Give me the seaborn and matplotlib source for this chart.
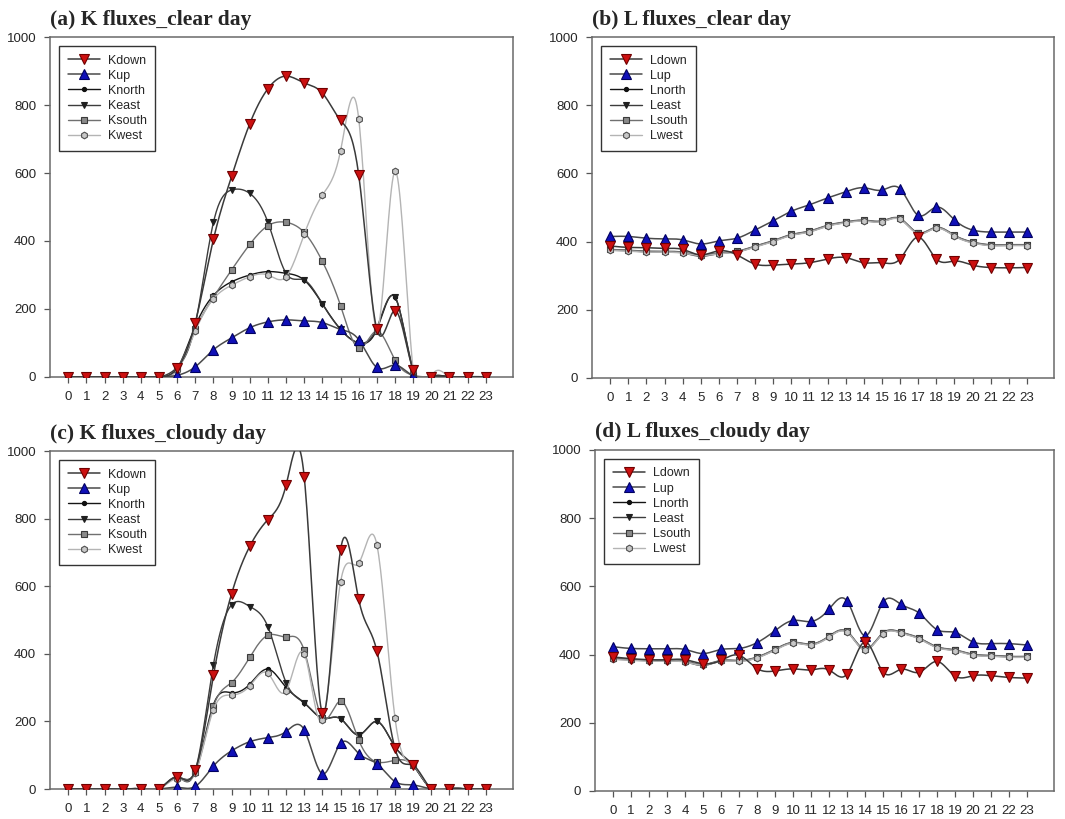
import numpy as np
import matplotlib
matplotlib.use("Agg")
import matplotlib.pyplot as plt
import seaborn as sns

# ---------------- data (W m-2, hourly) ----------------
hours = list(range(24))
hour_labels = [str(h) for h in hours]
y_ticks = [0, 200, 400, 600, 800, 1000]

# (a) shortwave, clear day
a_kdown = [0, 0, 0, 0, 0, 0, 25, 160, 405, 590, 745, 848, 885, 865, 835, 755, 595, 140, 195, 20, 0, 0, 0, 0]
a_kup = [0, 0, 0, 0, 0, 0, 5, 30, 80, 115, 145, 162, 168, 165, 160, 140, 110, 28, 35, 3, 0, 0, 0, 0]
a_knorth = [0, 0, 0, 0, 0, 0, 25, 150, 240, 280, 300, 310, 305, 285, 215, 140, 100, 140, 235, 20, 0, 0, 0, 0]
a_keast = [0, 0, 0, 0, 0, 0, 28, 155, 455, 550, 540, 455, 305, 285, 215, 140, 100, 145, 235, 25, 0, 0, 0, 0]
a_ksouth = [0, 0, 0, 0, 0, 0, 25, 140, 235, 315, 390, 445, 455, 425, 340, 210, 85, 135, 50, 5, 0, 0, 0, 0]
a_kwest = [0, 0, 0, 0, 0, 0, 20, 135, 230, 270, 295, 300, 295, 420, 535, 665, 760, 140, 605, 20, 0, 0, 0, 0]

# (b) longwave, clear day
b_ldown = [387, 383, 382, 380, 377, 361, 373, 361, 334, 331, 334, 338, 349, 353, 338, 338, 349, 413, 349, 343, 331, 324, 323, 324]
b_lup = [415, 415, 410, 408, 405, 393, 402, 410, 434, 461, 489, 508, 528, 546, 558, 551, 555, 477, 501, 464, 434, 428, 428, 428]
b_lnorth = [376, 374, 371, 371, 368, 360, 366, 371, 386, 402, 420, 430, 447, 457, 462, 460, 467, 425, 441, 418, 398, 390, 390, 390]
b_least = [375, 373, 370, 370, 367, 357, 365, 370, 385, 401, 419, 429, 446, 456, 461, 459, 466, 424, 440, 417, 397, 389, 389, 389]
b_lsouth = [377, 375, 372, 372, 369, 361, 367, 372, 387, 403, 421, 431, 448, 458, 463, 461, 468, 426, 442, 419, 399, 391, 391, 391]
b_lwest = [374, 372, 369, 369, 366, 359, 364, 369, 384, 400, 418, 428, 445, 455, 460, 458, 465, 423, 439, 416, 396, 388, 388, 388]

# (c) shortwave, cloudy day
c_kdown = [0, 0, 0, 0, 0, 0, 35, 55, 336, 578, 718, 797, 899, 923, 224, 707, 561, 409, 120, 70, 0, 0, 0, 0]
c_kup = [0, 0, 0, 0, 0, 0, 5, 8, 68, 113, 140, 152, 170, 175, 45, 135, 105, 75, 22, 12, 0, 0, 0, 0]
c_knorth = [0, 0, 0, 0, 0, 0, 35, 52, 250, 285, 310, 355, 300, 255, 210, 208, 160, 200, 125, 70, 0, 0, 0, 0]
c_keast = [0, 0, 0, 0, 0, 0, 35, 55, 368, 545, 540, 480, 315, 255, 210, 208, 160, 200, 125, 70, 0, 0, 0, 0]
c_ksouth = [0, 0, 0, 0, 0, 0, 35, 50, 245, 315, 390, 455, 450, 410, 210, 260, 145, 80, 85, 70, 0, 0, 0, 0]
c_kwest = [0, 0, 0, 0, 0, 0, 30, 48, 235, 278, 305, 342, 290, 400, 205, 612, 668, 723, 210, 70, 0, 0, 0, 0]

# (d) longwave, cloudy day
d_ldown = [393, 388, 385, 385, 385, 373, 383, 398, 359, 352, 358, 355, 355, 343, 437, 349, 357, 348, 380, 337, 338, 338, 333, 331]
d_lup = [423, 418, 417, 417, 415, 403, 415, 418, 435, 470, 500, 497, 533, 557, 455, 553, 547, 522, 473, 465, 437, 432, 432, 428]
d_lnorth = [388, 385, 383, 383, 380, 370, 382, 382, 392, 415, 435, 430, 453, 467, 415, 463, 465, 448, 422, 413, 400, 397, 394, 394]
d_least = [387, 384, 382, 382, 379, 368, 381, 381, 391, 414, 434, 429, 452, 466, 414, 462, 464, 447, 421, 412, 399, 396, 393, 393]
d_lsouth = [389, 386, 384, 384, 381, 371, 383, 383, 393, 416, 436, 431, 454, 468, 416, 464, 466, 449, 423, 414, 401, 398, 395, 395]
d_lwest = [386, 383, 381, 381, 378, 369, 380, 380, 390, 413, 433, 428, 451, 465, 413, 461, 463, 446, 420, 411, 398, 395, 392, 392]

panels = [
    ("(a) K fluxes_clear day", "K", [a_kdown, a_kup, a_knorth, a_keast, a_ksouth, a_kwest]),
    ("(b) L fluxes_clear day", "L", [b_ldown, b_lup, b_lnorth, b_least, b_lsouth, b_lwest]),
    ("(c) K fluxes_cloudy day", "K", [c_kdown, c_kup, c_knorth, c_keast, c_ksouth, c_kwest]),
    ("(d) L fluxes_cloudy day", "L", [d_ldown, d_lup, d_lnorth, d_least, d_lsouth, d_lwest]),
]
suffixes = ["down", "up", "north", "east", "south", "west"]

# line / marker styling per component
styles = [
    dict(color="#3a3a3a", marker="v", ms=7.0, mfc="#cc1010", mec="#700000", lw=1.1, z=6),
    dict(color="#4a4a4a", marker="^", ms=7.0, mfc="#1010b8", mec="#000060", lw=1.1, z=5),
    dict(color="#151515", marker="o", ms=3.0, mfc="#101010", mec="#101010", lw=1.0, z=1),
    dict(color="#3c3c3c", marker="v", ms=3.8, mfc="#202020", mec="#202020", lw=1.0, z=2),
    dict(color="#707070", marker="s", ms=3.8, mfc="#8a8a8a", mec="#3a3a3a", lw=1.0, z=3),
    dict(color="#b4b4b4", marker="h", ms=4.8, mfc="#c8c8c8", mec="#505050", lw=1.0, z=4),
]

SUB = 20  # curve samples per hour


def smooth_curve(values):
    """Natural cubic spline through hourly values, sampled SUB times per hour."""
    y = np.asarray(values, dtype=float)
    n = len(y)
    A = np.zeros((n, n))
    rhs = np.zeros(n)
    A[0, 0] = A[-1, -1] = 1.0
    for i in range(1, n - 1):
        A[i, i - 1], A[i, i], A[i, i + 1] = 1.0, 4.0, 1.0
        rhs[i] = 6.0 * (y[i + 1] - 2.0 * y[i] + y[i - 1])
    M = np.linalg.solve(A, rhs)
    t = np.linspace(0, n - 1, (n - 1) * SUB + 1)
    i = np.minimum(np.floor(t).astype(int), n - 2)
    s = t - i
    a = 1.0 - s
    yy = a * y[i] + s * y[i + 1] + (a ** 3 - a) * M[i] / 6.0 + (s ** 3 - s) * M[i + 1] / 6.0
    return hours[0] + t, yy


sns.set_style("white")
plt.rcParams["font.family"] = ["Liberation Sans", "DejaVu Sans"]

fig = plt.figure(figsize=(10.65, 8.19), dpi=100)
rects = [
    (0.047, 0.5397, 0.4347, 0.4151),
    (0.5559, 0.5385, 0.4338, 0.4163),
    (0.047, 0.0366, 0.4347, 0.4127),
    (0.5587, 0.0342, 0.4310, 0.4164),
]

for rect, (title, prefix, series) in zip(rects, panels):
    ax = fig.add_axes(rect)
    for suf, vals, st in zip(suffixes, series, styles):
        tx, ty = smooth_curve(vals)
        sns.lineplot(x=tx, y=ty, ax=ax, estimator=None, sort=False,
                     color=st["color"], linewidth=st["lw"], marker=st["marker"],
                     markevery=SUB, markersize=st["ms"], markerfacecolor=st["mfc"],
                     markeredgecolor=st["mec"], markeredgewidth=0.8,
                     zorder=st["z"], label=prefix + suf)
    ax.set_xlim(-1, 24.5)
    ax.set_ylim(0, 1000)
    ax.set_xticks(hours)
    ax.set_xticklabels(hour_labels)
    ax.set_yticks(y_ticks)
    ax.set_xlabel("")
    ax.set_ylabel("")
    ax.tick_params(axis="both", which="both", direction="out", length=4, width=0.9,
                   color="#555555", labelsize=9.5, pad=6, bottom=True, left=True)
    for sp in ax.spines.values():
        sp.set_visible(True)
        sp.set_color("#6a6a6a")
        sp.set_linewidth(1.1)
    ax.set_title(title, loc="left", pad=9, fontsize=15.5, fontweight="bold",
                 family=["Liberation Serif", "DejaVu Serif"])
    handles, labels = ax.get_legend_handles_labels()
    leg = ax.legend(handles, labels, loc="upper left", fontsize=9, frameon=True,
                    fancybox=False, framealpha=1, edgecolor="#333333",
                    handlelength=2.6, handletextpad=0.6, labelspacing=0.25,
                    borderpad=0.7, borderaxespad=0.7, numpoints=1)
    leg.get_frame().set_linewidth(1.0)

fig.savefig("out.png", dpi=100, facecolor="white")
